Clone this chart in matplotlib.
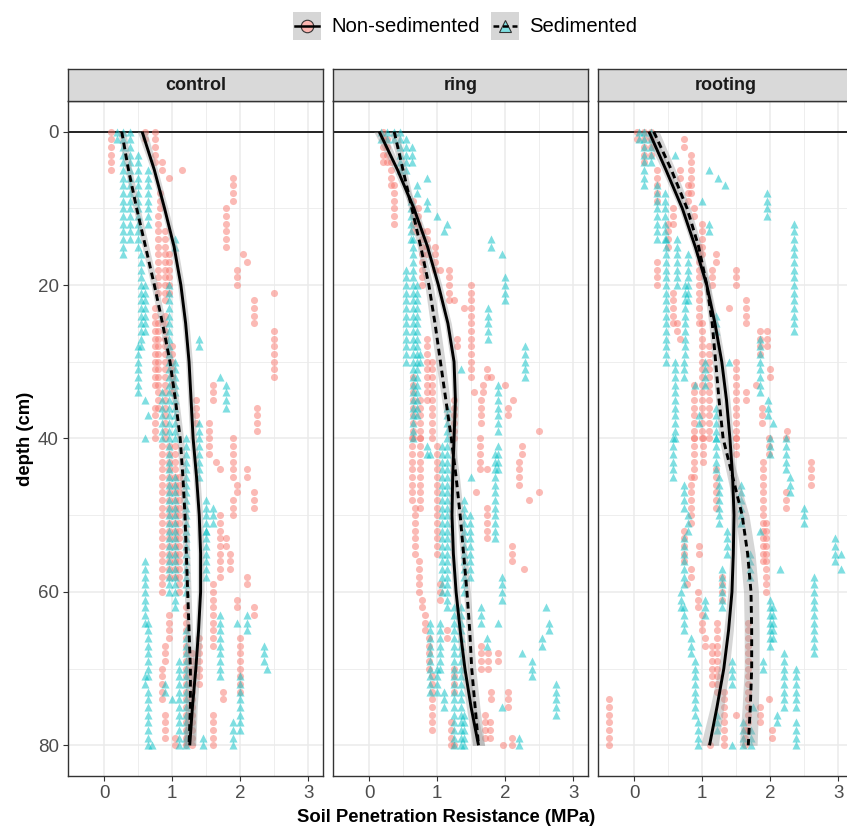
import matplotlib.pyplot as plt
import numpy as np
from matplotlib.lines import Line2D
from matplotlib.patches import Rectangle

plt.rcParams['font.family'] = ['Liberation Sans', 'DejaVu Sans']

W, H = 847, 832

facets = ["control", "ring", "rooting"]
groups = ["Non-sedimented", "Sedimented"]

# penetrometer readings, stored as runs: (resistance MPa, first depth cm, last depth cm)
control_non = [
    (0.10, 0, 5), (0.60, 0, 1), (0.75, 0, 4), (0.85, 4, 5), (0.95, 6, 6), (1.15, 5, 5),
    (0.82, 8, 10), (0.80, 11, 21), (0.90, 13, 22), (0.95, 16, 21), (0.75, 23, 33),
    (0.80, 25, 36), (0.90, 24, 40), (1.00, 28, 34), (0.75, 36, 40),
    (1.90, 6, 9), (1.80, 10, 15), (2.05, 16, 16), (2.10, 17, 17), (1.95, 18, 20),
    (2.50, 21, 21), (2.20, 22, 25), (2.50, 26, 32), (1.60, 33, 35), (2.25, 36, 39),
    (1.55, 38, 39), (1.35, 35, 38),
    (0.85, 41, 60), (0.95, 41, 58), (1.05, 41, 58), (1.10, 45, 60), (1.55, 40, 42),
    (1.65, 43, 43), (1.70, 44, 44), (1.90, 40, 45), (2.10, 44, 45), (1.95, 46, 47),
    (2.20, 47, 49), (1.90, 48, 50), (1.70, 50, 58), (1.80, 53, 54), (1.85, 55, 57),
    (2.10, 58, 59), (1.60, 59, 67), (1.95, 61, 62), (2.20, 62, 63), (2.00, 66, 73),
    (0.95, 63, 66), (0.90, 67, 69), (0.85, 70, 74), (0.90, 76, 79), (1.75, 73, 74),
    (1.60, 76, 80), (1.20, 62, 80), (1.30, 68, 80), (1.05, 79, 80), (1.40, 66, 72),
]
control_sed = [
    (0.19, 0, 1), (0.28, 0, 16), (0.38, 0, 14), (0.50, 3, 15), (0.65, 5, 12),
    (0.55, 16, 28), (0.60, 20, 26), (0.50, 28, 34), (0.60, 35, 35), (0.65, 37, 37),
    (1.40, 27, 28), (1.70, 32, 32), (1.80, 33, 36), (1.05, 14, 15), (0.95, 20, 40),
    (1.05, 30, 40), (0.85, 34, 40), (1.40, 38, 45),
    (0.60, 40, 40), (0.95, 41, 60), (1.05, 45, 62), (1.20, 40, 60), (1.50, 48, 52),
    (1.60, 49, 51), (1.50, 52, 58), (0.60, 56, 64), (0.65, 64, 71), (0.60, 71, 72),
    (0.65, 73, 80), (0.70, 80, 80), (1.70, 63, 71), (1.95, 64, 64), (2.10, 63, 65),
    (2.35, 67, 69), (2.40, 70, 70), (2.00, 71, 78), (1.90, 77, 80), (1.45, 79, 80),
    (1.10, 69, 80), (1.20, 65, 80), (0.90, 72, 73), (1.00, 74, 74),
]
ring_non = [
    (0.20, 0, 4), (0.27, 1, 4), (0.32, 4, 7), (0.37, 7, 12), (0.65, 9, 13),
    (0.72, 10, 12), (0.78, 13, 20), (0.85, 13, 16), (0.97, 15, 18), (1.05, 18, 18),
    (1.17, 18, 22), (1.25, 22, 22), (1.40, 23, 23), (1.50, 20, 32), (1.55, 34, 34),
    (1.73, 31, 32), (1.80, 32, 32), (1.68, 33, 34), (1.65, 35, 38), (2.00, 33, 33),
    (2.05, 36, 37), (2.12, 35, 35), (2.50, 39, 39), (1.30, 27, 28), (0.85, 27, 35),
    (0.93, 30, 40), (0.65, 32, 40), (0.75, 35, 40), (1.25, 35, 40),
    (0.63, 40, 48), (0.75, 40, 49), (0.68, 49, 55), (0.74, 56, 60), (0.78, 61, 62),
    (0.83, 63, 65), (0.88, 66, 70), (0.93, 71, 78), (1.00, 41, 55), (1.05, 59, 61),
    (1.15, 65, 66), (1.25, 70, 73), (1.63, 40, 44), (1.73, 44, 44), (1.58, 47, 47),
    (1.73, 49, 53), (2.10, 54, 56), (2.28, 57, 57), (2.20, 43, 46), (2.25, 41, 42),
    (2.35, 48, 48), (2.50, 47, 47), (1.65, 67, 70), (1.75, 68, 70), (1.90, 68, 69),
    (1.80, 73, 74), (2.05, 73, 75), (1.70, 76, 79), (1.78, 77, 79), (1.97, 80, 80),
    (2.10, 79, 80), (1.25, 80, 80), (1.20, 77, 80),
]
ring_sed = [
    (0.17, 0, 1), (0.27, 0, 1), (0.37, 0, 1), (0.45, 0, 5), (0.55, 1, 5), (0.63, 2, 4),
    (0.85, 6, 6), (0.70, 7, 8), (0.85, 9, 10), (1.00, 11, 11), (1.15, 12, 12),
    (1.10, 13, 13), (1.80, 14, 15), (1.95, 16, 16), (2.00, 19, 22), (1.75, 23, 27),
    (2.30, 28, 32), (0.55, 18, 30), (0.65, 14, 40), (0.70, 20, 37), (0.62, 9, 14),
    (1.90, 33, 39), (1.35, 31, 31), (0.75, 29, 30), (1.15, 36, 40),
    (0.85, 41, 42), (0.90, 42, 42), (1.08, 41, 60), (1.15, 41, 62), (1.50, 45, 45),
    (1.85, 42, 53), (1.90, 41, 44), (1.95, 58, 61), (1.40, 48, 60), (1.48, 50, 58),
    (1.65, 62, 64), (1.90, 64, 64), (0.90, 64, 73), (1.05, 64, 70), (1.00, 70, 73),
    (2.60, 62, 62), (2.65, 64, 65), (2.55, 66, 67), (2.25, 68, 68), (2.40, 69, 71),
    (2.75, 72, 76), (1.95, 75, 75), (1.73, 66, 67), (1.10, 73, 75), (1.25, 62, 80),
    (1.35, 62, 80), (1.40, 76, 80), (2.20, 79, 80),
]
rooting_non = [
    (0.05, 0, 1), (0.15, 0, 4), (0.25, 0, 3), (0.74, 1, 2), (0.84, 3, 8), (0.34, 5, 9),
    (0.68, 5, 6), (0.80, 7, 9), (0.88, 10, 11), (0.58, 10, 12), (0.50, 12, 15),
    (1.00, 12, 16), (1.20, 16, 17), (1.15, 18, 20), (0.34, 17, 20), (1.50, 18, 20),
    (0.58, 21, 25), (0.63, 25, 26), (1.65, 22, 25), (1.40, 23, 23), (1.85, 26, 29),
    (1.95, 26, 28), (1.00, 25, 40), (1.10, 28, 40), (1.50, 30, 40), (2.00, 31, 32),
    (1.65, 34, 35), (1.80, 33, 33), (1.88, 36, 38), (2.25, 39, 39), (0.88, 33, 40),
    (0.68, 27, 27), (0.95, 15, 25),
    (0.88, 40, 45), (1.02, 40, 43), (1.20, 44, 49), (1.50, 40, 42), (1.98, 40, 42),
    (2.24, 40, 40), (2.60, 43, 46), (2.24, 47, 49), (1.90, 43, 56), (1.94, 51, 60),
    (0.84, 45, 51), (0.74, 52, 56), (0.95, 54, 55), (0.84, 57, 58), (0.78, 59, 59),
    (0.94, 60, 62), (1.00, 63, 65), (1.05, 66, 67), (1.15, 67, 70), (1.30, 58, 61),
    (1.22, 64, 73), (1.15, 71, 72), (1.33, 73, 80), (-0.37, 74, 80), (1.68, 64, 78),
    (1.85, 75, 77), (1.98, 74, 74), (2.03, 78, 79), (1.50, 76, 76), (1.12, 80, 80),
    (1.63, 78, 80),
]
rooting_sed = [
    (0.07, 0, 1), (0.15, 0, 7), (0.25, 0, 4), (0.34, 7, 14), (0.45, 8, 14), (0.60, 3, 3),
    (1.10, 5, 5), (1.24, 6, 6), (1.34, 7, 7), (1.00, 9, 9), (1.95, 8, 11), (2.35, 12, 26),
    (0.47, 14, 30), (0.63, 14, 20), (0.75, 20, 29), (1.10, 12, 13), (0.60, 30, 40),
    (0.74, 30, 32), (1.05, 30, 33), (1.20, 24, 26), (1.85, 27, 34), (1.97, 35, 37),
    (1.40, 30, 30), (1.20, 36, 40), (0.90, 33, 33), (2.05, 38, 38), (0.95, 37, 38),
    (0.80, 16, 22),
    (0.58, 40, 45), (0.74, 46, 49), (0.80, 50, 52), (0.74, 53, 59), (0.69, 60, 62),
    (0.74, 62, 65), (0.84, 66, 68), (0.89, 69, 76), (0.94, 77, 80), (1.20, 40, 44),
    (1.25, 45, 51), (1.36, 52, 55), (1.29, 57, 62), (1.58, 46, 51), (1.70, 55, 58),
    (2.00, 40, 42), (2.24, 40, 44), (2.30, 45, 47), (2.50, 49, 51), (1.85, 52, 52),
    (2.95, 53, 56), (3.05, 55, 55), (3.05, 57, 57), (2.15, 57, 57), (2.65, 58, 68),
    (1.05, 61, 63), (2.00, 61, 67), (2.05, 62, 66), (2.20, 68, 75), (2.38, 70, 75),
    (2.38, 77, 80), (1.90, 69, 70), (1.44, 69, 72), (2.10, 76, 77), (1.75, 75, 75),
    (1.60, 77, 80), (1.44, 80, 80), (1.72, 78, 80), (1.22, 76, 78),
]

# loess fits at 5 cm steps, with half-width of the confidence band
fit_depth = [0, 5, 10, 15, 20, 25, 30, 35, 40, 45, 50, 55, 60, 65, 70, 75, 80]
control_non_fit = [0.56, 0.74, 0.89, 1.03, 1.13, 1.20, 1.25, 1.28, 1.31, 1.36, 1.40, 1.42, 1.42, 1.39, 1.35, 1.30, 1.26]
control_sed_fit = [0.26, 0.36, 0.48, 0.61, 0.74, 0.86, 0.97, 1.05, 1.12, 1.16, 1.19, 1.21, 1.23, 1.25, 1.27, 1.27, 1.25]
ring_non_fit = [0.15, 0.42, 0.66, 0.86, 1.02, 1.16, 1.25, 1.27, 1.25, 1.23, 1.22, 1.24, 1.28, 1.34, 1.41, 1.50, 1.61]
ring_sed_fit = [0.37, 0.50, 0.63, 0.76, 0.88, 0.97, 1.05, 1.13, 1.21, 1.28, 1.34, 1.39, 1.44, 1.48, 1.51, 1.56, 1.61]
rooting_non_fit = [0.22, 0.47, 0.71, 0.90, 1.07, 1.19, 1.29, 1.36, 1.41, 1.45, 1.47, 1.46, 1.44, 1.39, 1.32, 1.22, 1.11]
rooting_sed_fit = [0.29, 0.55, 0.78, 0.95, 1.07, 1.15, 1.20, 1.25, 1.31, 1.45, 1.59, 1.67, 1.72, 1.73, 1.73, 1.71, 1.68]

control_non_se = [0.07, 0.05, 0.05, 0.05, 0.05, 0.05, 0.05, 0.05, 0.05, 0.05, 0.05, 0.05, 0.05, 0.05, 0.06, 0.07, 0.09]
control_sed_se = [0.06, 0.05, 0.05, 0.05, 0.05, 0.05, 0.05, 0.05, 0.05, 0.05, 0.05, 0.05, 0.05, 0.05, 0.06, 0.07, 0.09]
ring_non_se = [0.08, 0.06, 0.05, 0.05, 0.05, 0.05, 0.05, 0.05, 0.05, 0.05, 0.05, 0.05, 0.05, 0.05, 0.06, 0.07, 0.09]
ring_sed_se = [0.07, 0.05, 0.05, 0.05, 0.06, 0.07, 0.07, 0.06, 0.05, 0.05, 0.05, 0.05, 0.05, 0.05, 0.06, 0.07, 0.09]
rooting_non_se = [0.08, 0.06, 0.05, 0.05, 0.05, 0.05, 0.05, 0.05, 0.05, 0.05, 0.05, 0.05, 0.06, 0.07, 0.08, 0.10, 0.13]
rooting_sed_se = [0.08, 0.06, 0.05, 0.05, 0.05, 0.05, 0.05, 0.05, 0.06, 0.08, 0.10, 0.11, 0.11, 0.11, 0.11, 0.12, 0.13]

points = {
    "control": (control_non, control_sed),
    "ring": (ring_non, ring_sed),
    "rooting": (rooting_non, rooting_sed),
}
fits = {
    "control": ((control_non_fit, control_non_se), (control_sed_fit, control_sed_se)),
    "ring": ((ring_non_fit, ring_non_se), (ring_sed_fit, ring_sed_se)),
    "rooting": ((rooting_non_fit, rooting_non_se), (rooting_sed_fit, rooting_sed_se)),
}

RED = "#F8766D"
CYAN = "#00BFC4"
RIBBON = "#D6D6D6"
GRID = "#EBEBEB"
EDGE = "#333333"
TICKLAB = "#4D4D4D"
LW = 2.1
DASH = (0, (2.3, 1.5))


def expand(runs):
    xs, ds = [], []
    for x, d0, d1 in runs:
        for d in range(d0, d1 + 1):
            xs.append(x)
            ds.append(d)
    return np.array(xs), np.array(ds)


def fig_rect(x0, y0, x1, y1):
    # pixel box (top-left origin) -> figure fraction [l, b, w, h]
    return [x0 / W, 1 - y1 / H, (x1 - x0) / W, (y1 - y0) / H]


fig = plt.figure(figsize=(W / 100, H / 100), dpi=100)

lefts = [68, 333, 598]
for i, name in enumerate(facets):
    x0 = lefts[i]
    ax = fig.add_axes(fig_rect(x0, 101, x0 + 255, 776))
    ax.set_xlim(-0.53, 3.22)
    ax.set_ylim(84, -4)

    ax.set_xticks([0, 1, 2, 3])
    ax.set_xticks([0.5, 1.5, 2.5], minor=True)
    ax.set_yticks([0, 20, 40, 60, 80])
    ax.set_yticks([10, 30, 50, 70], minor=True)
    ax.grid(which="major", color=GRID, lw=1.1)
    ax.grid(which="minor", color=GRID, lw=0.6)
    ax.set_axisbelow(True)
    ax.tick_params(which="major", length=3.5, width=0.8, color=EDGE,
                   labelsize=13.5, labelcolor=TICKLAB, pad=3)
    ax.tick_params(which="minor", length=0)
    if i > 0:
        ax.tick_params(axis="y", labelleft=False, length=0)
    for sp in ax.spines.values():
        sp.set_color(EDGE)
        sp.set_linewidth(1.0)

    ax.axhline(0, color="black", lw=1.2, zorder=1)

    non_runs, sed_runs = points[name]
    xs, ds = expand(non_runs)
    ax.scatter(xs, ds, s=26, marker="o", color=RED, alpha=0.5, lw=0, zorder=2)
    xs, ds = expand(sed_runs)
    ax.scatter(xs, ds, s=34, marker="^", color=CYAN, alpha=0.5, lw=0, zorder=2)

    (nf, ns), (sf, ss) = fits[name]
    for fit, se in ((nf, ns), (sf, ss)):
        fit = np.array(fit)
        se = np.array(se)
        ax.fill_betweenx(fit_depth, fit - se, fit + se, color="#999999",
                         alpha=0.4, lw=0, zorder=3)
    ax.plot(nf, fit_depth, color="black", lw=LW, zorder=4,
            solid_capstyle="butt", solid_joinstyle="round")
    ax.plot(sf, fit_depth, color="black", lw=LW, zorder=4,
            linestyle=DASH, dash_capstyle="butt")

    # facet strip
    strip = fig.add_axes(fig_rect(x0, 69, x0 + 255, 101))
    strip.set_facecolor("#D9D9D9")
    strip.set_xticks([])
    strip.set_yticks([])
    for sp in strip.spines.values():
        sp.set_color(EDGE)
        sp.set_linewidth(1.0)
    strip.text(0.5, 0.5, name, ha="center", va="center", fontsize=13,
               fontweight="bold", color="#1A1A1A", transform=strip.transAxes)

fig.text(446 / W, 1 - 818 / H, "Soil Penetration Resistance (MPa)",
         ha="center", va="center", fontsize=13.3, fontweight="bold")
fig.text(26 / W, 1 - 439 / H, "depth (cm)", ha="center", va="center",
         rotation=90, fontsize=13.3, fontweight="bold")


# legend keys drawn by hand so each key gets its grey ribbon background
def key(x0, marker, color, ls, label):
    cx, cy = x0 + 14, 26
    fig.add_artist(Rectangle((x0 / W, 1 - 40 / H), 28 / W, 28 / H,
                             transform=fig.transFigure, facecolor=RIBBON,
                             edgecolor="none"))
    fig.add_artist(Line2D([cx / W], [1 - cy / H], marker=marker, markersize=9,
                          markerfacecolor=color, markeredgecolor="#333333",
                          markeredgewidth=0.8, transform=fig.transFigure))
    fig.add_artist(Line2D([(x0 + 2) / W, (x0 + 26) / W], [1 - cy / H, 1 - cy / H],
                          color="black", lw=1.8, linestyle=ls,
                          transform=fig.transFigure))
    fig.text((x0 + 38) / W, 1 - (cy + 1) / H, label, ha="left", va="center",
             fontsize=14.6)


key(293, "o", "#FBB5B0", "-", groups[0])
key(491, "^", "#7FDFE1", DASH, groups[1])

fig.savefig("out.png", dpi=100)
